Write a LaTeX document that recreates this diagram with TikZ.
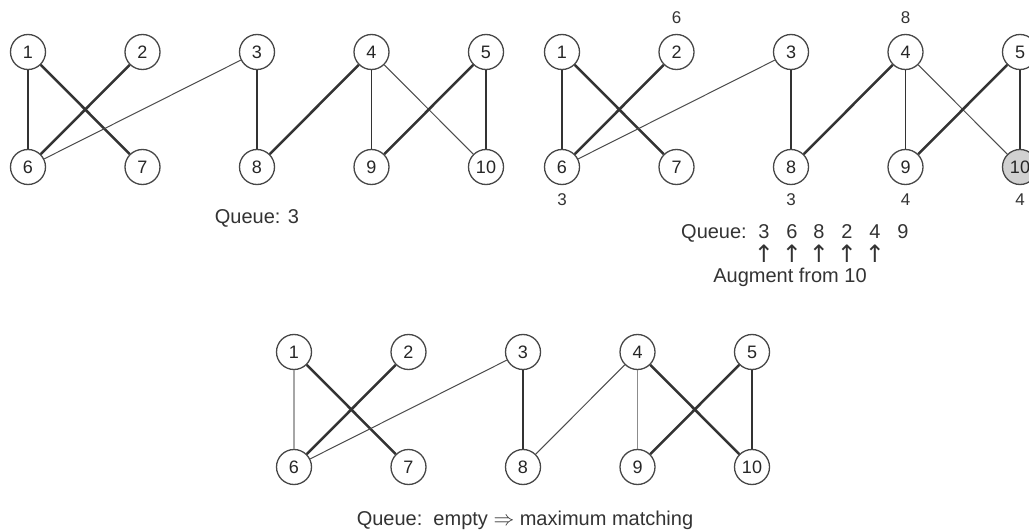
\documentclass[tikz,border=0pt]{standalone}
\usepackage{fontspec}
\setmainfont{Liberation Sans}
\newfontfamily\arrfont{DejaVu Sans}
\begin{document}
\begin{tikzpicture}[x=1pt,y=-1pt,
  vtx/.style={circle,draw=black!72,line width=1.3pt,minimum size=35pt,inner sep=0pt,fill=white,text=black!85,font=\fontsize{18}{18}\selectfont},
  b10/.style={fill=black!18},
  thk/.style={line width=2.5pt,draw=black!80},
  med/.style={line width=1.4pt,draw=black!80},
  thn/.style={line width=1pt,draw=black!70},
  lgt/.style={line width=1.5pt,draw=black!35},
  lgthn/.style={line width=1pt,draw=black!45},
  lbl/.style={inner sep=0pt,text=black!80,font=\fontsize{17}{17}\selectfont},
  captxt/.style={inner sep=0pt,text=black!80,font=\fontsize{20}{20}\selectfont},
  uparr/.style={inner sep=0pt,text=black!80,font=\arrfont\fontsize{24}{24}\selectfont}]
\clip (0,0) rectangle (1029,532);
\fill[white] (0,0) rectangle (1029,532);
\foreach \p/\ox/\oy in {a/28/52, b/562/52, c/294/352} {
  \foreach \i in {1,...,5}
    \node[vtx,\p\i/.try] (\p\i) at ({\ox+(\i-1)*114.5},\oy) {\i};
  \foreach \i in {6,...,10}
    \node[vtx,\p\i/.try] (\p\i) at ({\ox+(\i-6)*114.5},\oy+115) {\i};
}
% panel a and b edges
\foreach \p in {a,b} {
  \draw[med] (\p1) -- (\p6);
  \draw[thk] (\p1) -- (\p7);
  \draw[thk] (\p2) -- (\p6);
  \draw[thn] (\p3) -- (\p6);
  \draw[med] (\p3) -- (\p8);
  \draw[thk] (\p4) -- (\p8);
  \draw[med] (\p4) -- (\p9);
  \draw[thn] (\p4) -- (\p10);
  \draw[thk] (\p5) -- (\p9);
  \draw[med] (\p5) -- (\p10);
}
% panel c edges
\draw[lgt] (c1) -- (c6);
\draw[thk] (c1) -- (c7);
\draw[thk] (c2) -- (c6);
\draw[thn] (c3) -- (c6);
\draw[thk] (c3) -- (c8);
\draw[thn] (c4) -- (c8);
\draw[lgthn] (c4) -- (c9);
\draw[thk] (c4) -- (c10);
\draw[thk] (c5) -- (c9);
\draw[med] (c5) -- (c10);
% labels panel b
\node[lbl] (lb2) at ([yshift=34pt]b2.center) {6};
\node[lbl] (lb4) at ([yshift=34pt]b4.center) {8};
\node[lbl] (lb6) at ([yshift=-33pt]b6.center) {3};
\node[lbl] (lb8) at ([yshift=-33pt]b8.center) {3};
\node[lbl] (lb9) at ([yshift=-33pt]b9.center) {4};
\node[lbl] (lb10) at ([yshift=-33pt]b10.center) {4};
% captions
\node[captxt] (qa) at (257,218) {Queue: 3};
\node[captxt,anchor=base east] (qb) at (747,239) {Queue:};
\foreach \x/\d/\n in {764/3/q1, 792/6/q2, 819/8/q3, 847/2/q4, 875/4/q5, 903/9/q6}
  \node[captxt,anchor=base] (\n) at (\x,239) {\d};
\foreach \x/\n in {764/u1, 792/u2, 819/u3, 847/u4, 875/u5}
  \node[uparr] (\n) at (\x,254) {↑};
\node[captxt] (aug) at (790,277) {Augment from 10};
\node[captxt] (qc) at (525,520) {Queue:\ \ empty $\Rightarrow$ maximum matching};
\end{tikzpicture}
\end{document}
